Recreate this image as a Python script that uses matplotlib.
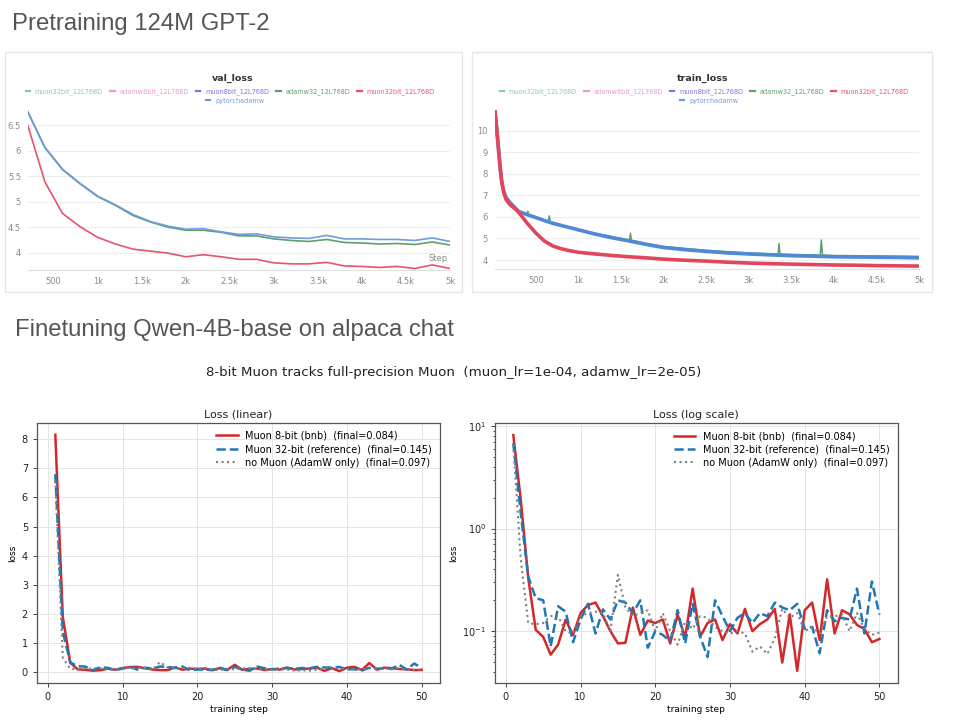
import matplotlib
matplotlib.use("Agg")
import matplotlib.pyplot as plt
from matplotlib.lines import Line2D
from matplotlib.patches import Rectangle

W, H = 960, 720

# ---- pretraining (wandb screenshots) ----
run_names = ["muon32bit_12L768D", "adamw8bit_12L768D", "muon8bit_12L768D",
             "adamw32_12L768D", "muon32bit_12L768D", "pytorchadamw"]
run_colors = ["#86cbb0", "#e59ad8", "#8a6fd6", "#5f9f6e", "#e8536b", "#6f9be0"]

val_steps = [200, 400, 600, 800, 1000, 1200, 1400, 1600, 1800, 2000, 2200, 2400, 2600,
             2800, 3000, 3200, 3400, 3600, 3800, 4000, 4200, 4400, 4600, 4800, 5000]
val_torch = [6.79, 6.07, 5.64, 5.36, 5.11, 4.94, 4.75, 4.61, 4.52, 4.46, 4.47, 4.41, 4.36,
             4.37, 4.31, 4.29, 4.28, 4.34, 4.27, 4.27, 4.26, 4.26, 4.24, 4.29, 4.22]
val_adamw32 = [6.78, 6.06, 5.63, 5.35, 5.10, 4.93, 4.73, 4.60, 4.50, 4.44, 4.44, 4.40, 4.33,
               4.33, 4.27, 4.24, 4.22, 4.26, 4.20, 4.19, 4.17, 4.18, 4.16, 4.21, 4.15]
val_muon32 = [6.53, 5.39, 4.77, 4.51, 4.30, 4.17, 4.07, 4.03, 3.99, 3.92, 3.96, 3.92, 3.87,
              3.87, 3.80, 3.78, 3.78, 3.81, 3.74, 3.73, 3.71, 3.73, 3.69, 3.76, 3.69]

tr_steps = [20, 40, 60, 80, 100, 125, 150, 200, 250, 300, 400, 500, 600, 700, 800, 900,
            1000, 1200, 1400, 1600, 1800, 2000, 2250, 2500, 2750, 3000, 3250, 3500, 3750,
            4000, 4250, 4500, 4750, 5000]
tr_torch = [10.9, 10.1, 9.2, 8.3, 7.6, 7.15, 6.9, 6.65, 6.45, 6.25, 6.1, 5.97, 5.83, 5.7,
            5.6, 5.5, 5.4, 5.2, 5.03, 4.88, 4.72, 4.58, 4.48, 4.4, 4.33, 4.28, 4.24, 4.2,
            4.18, 4.15, 4.14, 4.13, 4.12, 4.1]
tr_muon32 = [10.9, 10.1, 9.2, 8.3, 7.6, 7.1, 6.8, 6.55, 6.4, 6.2, 5.7, 5.25, 4.88, 4.65,
             4.52, 4.43, 4.36, 4.28, 4.21, 4.15, 4.1, 4.04, 3.99, 3.95, 3.9, 3.86, 3.83,
             3.81, 3.79, 3.77, 3.76, 3.74, 3.73, 3.72]
tr_adamw32_steps = [20, 60, 100, 150, 200, 300, 395, 406, 415, 500, 645, 657, 670, 800,
                    1000, 1200, 1400, 1600, 1611, 1622, 1800, 2000, 2500, 3000, 3345,
                    3356, 3367, 3500, 3840, 3853, 3866, 4000, 4500, 5000]
tr_adamw32 = [10.9, 9.2, 7.6, 6.9, 6.65, 6.27, 6.12, 6.27, 6.1, 5.99, 5.8, 6.05, 5.78,
              5.63, 5.43, 5.24, 5.08, 4.93, 5.24, 4.92, 4.77, 4.63, 4.45, 4.33, 4.28,
              4.77, 4.28, 4.26, 4.23, 4.93, 4.23, 4.21, 4.19, 4.17]

val_xticks = [500, 1000, 1500, 2000, 2500, 3000, 3500, 4000, 4500, 5000]
val_xlabels = ["500", "1k", "1.5k", "2k", "2.5k", "3k", "3.5k", "4k", "4.5k", "5k"]
val_yticks = [4, 4.5, 5, 5.5, 6, 6.5]
val_ylabels = ["4", "4.5", "5", "5.5", "6", "6.5"]
tr_yticks = [4, 5, 6, 7, 8, 9, 10]

# ---- finetuning ----
ft_steps = list(range(1, 51))
muon8 = [8.15, 1.9, 0.33, 0.103, 0.088, 0.059, 0.074, 0.129, 0.092, 0.15,
         0.18, 0.19, 0.14, 0.10, 0.076, 0.077, 0.17, 0.092, 0.127, 0.12,
         0.13, 0.076, 0.145, 0.087, 0.26, 0.088, 0.12, 0.13, 0.082, 0.117,
         0.095, 0.165, 0.10, 0.117, 0.13, 0.165, 0.0495, 0.146, 0.041, 0.16,
         0.19, 0.082, 0.32, 0.095, 0.16, 0.146, 0.115, 0.105, 0.078, 0.084]
muon32 = [6.8, 1.4, 0.34, 0.21, 0.20, 0.071, 0.175, 0.155, 0.078, 0.13,
          0.185, 0.095, 0.163, 0.13, 0.20, 0.19, 0.15, 0.20, 0.069, 0.10,
          0.092, 0.08, 0.16, 0.076, 0.185, 0.089, 0.056, 0.20, 0.14, 0.10,
          0.135, 0.15, 0.12, 0.15, 0.14, 0.19, 0.17, 0.16, 0.185, 0.105,
          0.11, 0.061, 0.16, 0.125, 0.135, 0.13, 0.26, 0.095, 0.305, 0.145]
adamw_only = [6.6, 0.5, 0.12, 0.117, 0.12, 0.14, 0.14, 0.10, 0.095, 0.14,
              0.15, 0.155, 0.15, 0.10, 0.354, 0.17, 0.14, 0.15, 0.16, 0.10,
              0.15, 0.10, 0.074, 0.125, 0.105, 0.14, 0.135, 0.11, 0.10, 0.095,
              0.10, 0.095, 0.063, 0.071, 0.06, 0.085, 0.165, 0.135, 0.15, 0.10,
              0.11, 0.095, 0.14, 0.14, 0.145, 0.10, 0.15, 0.105, 0.092, 0.097]


def rect(l, t, r, b):
    return [l / W, 1 - b / H, (r - l) / W, (b - t) / H]


def fx(x):
    return x / W


def fy(y):
    return 1 - y / H


fig = plt.figure(figsize=(W / 100, H / 100), dpi=100)
fig.patch.set_facecolor("white")

head = dict(family=["Liberation Sans", "DejaVu Sans"], fontsize=17.2, color="#555555")
fig.text(fx(12), fy(24), "Pretraining 124M GPT-2", va="center", **head)
fig.text(fx(15), fy(330), "Finetuning Qwen-4B-base on alpaca chat", va="center", **head)

# panel frames of the screenshots
for l, r in [(5, 462), (472, 932)]:
    fig.patches.append(Rectangle((fx(l), fy(292)), (r - l) / W, 240 / H,
                                 transform=fig.transFigure, fill=False,
                                 edgecolor="#e6e6e6", lw=1))


def wandb_style(ax):
    for s in ["top", "right", "left"]:
        ax.spines[s].set_visible(False)
    ax.spines["bottom"].set_color("#e0e0e0")
    ax.tick_params(length=0, labelsize=6, labelcolor="#8a8a8a", pad=5)
    ax.grid(axis="y", color="#eeeeee", lw=0.8)
    ax.set_axisbelow(True)
    ax.set_xticks(val_xticks)
    ax.set_xticklabels(val_xlabels)


handles = [Line2D([], [], color=c, lw=1.6) for c in run_colors]


def wandb_legend(cx, y1, y2):
    fig.legend(handles[:5], run_names[:5], loc="center", bbox_to_anchor=(fx(cx), fy(y1)),
               ncol=5, fontsize=4.7, frameon=False, handlelength=0.7, handletextpad=0.7,
               columnspacing=1.1, labelcolor=run_colors[:5], borderpad=0)
    fig.legend(handles[5:], run_names[5:], loc="center", bbox_to_anchor=(fx(cx + 5), fy(y2)),
               fontsize=4.7, frameon=False, handlelength=0.7, handletextpad=0.7,
               labelcolor=run_colors[5:], borderpad=0)


# val_loss
ax1 = fig.add_axes(rect(28, 107.5, 450, 270))
ax1.plot(val_steps, val_adamw32, color=run_colors[3], lw=1.2)
ax1.plot(val_steps, val_torch, color=run_colors[5], lw=1.2)
ax1.plot(val_steps, val_muon32, color=run_colors[4], lw=1.2)
ax1.set_xlim(208, 5000)
ax1.set_ylim(3.66, 6.85)
wandb_style(ax1)
ax1.set_yticks(val_yticks)
ax1.set_yticklabels(val_ylabels)
ax1.text(0.995, 0.07, "Step", transform=ax1.transAxes, ha="right", va="center",
         fontsize=6, color="#8a8a8a")
fig.text(fx(233), fy(78), "val_loss", ha="center", va="center", fontsize=6.8,
         fontweight="bold", color="#333333")
wandb_legend(230, 91.5, 100.5)

# train_loss
ax2 = fig.add_axes(rect(495, 110.2, 919, 269.3))
ax2.plot(tr_adamw32_steps, tr_adamw32, color=run_colors[3], lw=1.1)
ax2.plot(tr_steps, tr_torch, color="#4f89d8", lw=2.6)
ax2.plot(tr_steps, tr_muon32, color="#e2455c", lw=2.6)
ax2.set_xlim(20, 5000)
ax2.set_ylim(3.57, 10.95)
wandb_style(ax2)
ax2.set_yticks(tr_yticks)
fig.text(fx(703), fy(78), "train_loss", ha="center", va="center", fontsize=6.8,
         fontweight="bold", color="#333333")
wandb_legend(704, 91.5, 100.5)

# ---- finetuning comparison ----
fig.text(fx(454), fy(372), "8-bit Muon tracks full-precision Muon  (muon_lr=1e-04, adamw_lr=2e-05)",
         ha="center", va="center", fontsize=9.6, color="#222222")

labels = [f"Muon 8-bit (bnb)  (final={muon8[-1]:.3f})",
          f"Muon 32-bit (reference)  (final={muon32[-1]:.3f})",
          f"no Muon (AdamW only)  (final={adamw_only[-1]:.3f})"]

for box, title, log in [((37, 423, 440, 683), "Loss (linear)", False),
                        ((495, 423.3, 897.7, 682.7), "Loss (log scale)", True)]:
    ax = fig.add_axes(rect(*box))
    ax.plot(ft_steps, muon8, color="#d62728", lw=1.8, label=labels[0])
    ax.plot(ft_steps, muon32, color="#1f77b4", lw=1.8, ls="--", label=labels[1])
    ax.plot(ft_steps, adamw_only, color="#7f7f7f", lw=1.5, ls=":", label=labels[2])
    if log:
        ax.set_yscale("log")
    ax.set_title(title, fontsize=8, color="#222222", pad=4)
    ax.set_xlabel("training step", fontsize=6.5, labelpad=2)
    ax.set_ylabel("loss", fontsize=6.5, labelpad=3)
    ax.tick_params(labelsize=7, length=3, width=0.7, color="#444444", labelcolor="#222222")
    ax.tick_params(which="minor", length=1.8, width=0.5)
    ax.grid(True, color="#e4e4e4", lw=0.7)
    ax.set_axisbelow(True)
    for s in ax.spines.values():
        s.set_color("#555555")
        s.set_linewidth(0.9)
    ax.legend(loc="upper right", fontsize=7, frameon=False, handlelength=2.2,
              borderaxespad=0.4, labelspacing=0.35)

fig.savefig("out.png", dpi=100)
